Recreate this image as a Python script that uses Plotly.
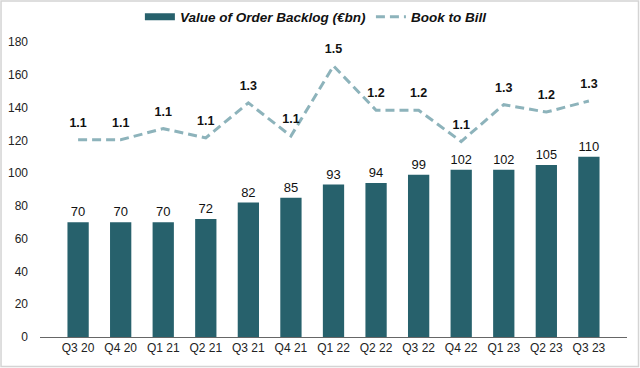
import plotly.graph_objects as go

quarters = ["Q3 20", "Q4 20", "Q1 21", "Q2 21", "Q3 21", "Q4 21", "Q1 22",
            "Q2 22", "Q3 22", "Q4 22", "Q1 23", "Q2 23", "Q3 23"]
backlog = [70, 70, 70, 72, 82, 85, 93, 94, 99, 102, 102, 105, 110]
book_to_bill = [1.07, 1.07, 1.13, 1.08, 1.27, 1.09, 1.47, 1.23, 1.23, 1.06, 1.26, 1.22, 1.28]
y_ticks = [0, 20, 40, 60, 80, 100, 120, 140, 160, 180]

BAR = "#27616c"
LINE = "#8db3bb"
FONT = "Liberation Sans, Arial, sans-serif"

fig = go.Figure()
fig.add_trace(go.Bar(
    x=quarters, y=backlog, name="Value of Order Backlog (€bn)",
    marker=dict(color=BAR, line=dict(width=0)), width=0.5,
    text=backlog, textposition="outside", cliponaxis=False,
    textfont=dict(family=FONT, size=13, color="#111"),
    showlegend=False, legendgroup="bl",
))
# legend-only entry so the backlog key is drawn as a wide bar swatch
fig.add_trace(go.Scatter(
    x=[None], y=[None], name="Value of Order Backlog (€bn)", mode="lines",
    line=dict(color=BAR, width=7), legendgroup="bl", hoverinfo="skip",
))
fig.add_trace(go.Scatter(
    x=quarters, y=book_to_bill, name="Book to Bill", yaxis="y2",
    mode="lines+markers+text",
    line=dict(color=LINE, width=3, dash="9px,5px"),
    marker=dict(size=14, color="rgba(0,0,0,0)"),
    texttemplate="%{y:.1f}", textposition="top center", cliponaxis=False,
    textfont=dict(family=FONT, size=12.5, color="#111", weight="bold"),
))

fig.update_layout(
    width=640, height=368,
    margin=dict(l=40, r=13, t=42, b=31, autoexpand=False),
    paper_bgcolor="white", plot_bgcolor="white",
    font=dict(family=FONT, size=12, color="#222"),
    showlegend=True,
    legend=dict(orientation="h", x=0.47, xanchor="center", y=1.085, yanchor="middle",
                font=dict(family=FONT, size=13.5, color="#111", weight="bold", style="italic"),
                itemwidth=30, traceorder="normal", bgcolor="rgba(0,0,0,0)"),
    xaxis=dict(showline=True, linecolor="#666", linewidth=1, ticks="",
               showgrid=False, tickfont=dict(size=12, color="#222")),
    yaxis=dict(range=[0, 180], tickvals=y_ticks, showgrid=False, zeroline=False,
               showline=False, ticks="", tickfont=dict(size=12, color="#222"),
               ticklabelstandoff=11),
    yaxis2=dict(range=[0, 1.6], overlaying="y", side="right", visible=False),
    shapes=[dict(type="rect", xref="paper", yref="paper",
                 x0=-0.0664, x1=1.0196, y0=-0.1, y1=1.139,
                 line=dict(color="#d4d4d4", width=1.5), layer="below")],
)

fig.write_html("out.html", config={"displayModeBar": False},
               post_script="document.body.style.margin='0';")
